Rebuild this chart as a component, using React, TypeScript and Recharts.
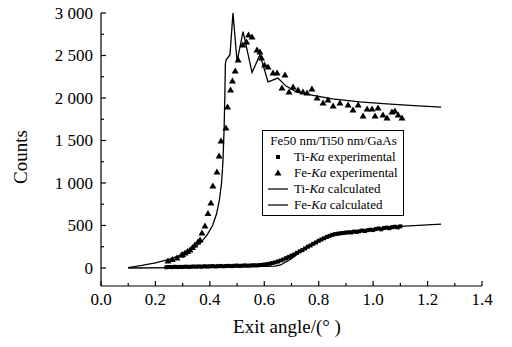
import { ComposedChart, Legend, Line, Scatter, XAxis, YAxis } from "recharts";

const FONT = "Liberation Serif, Times New Roman, serif";

const xTicks = [0, 0.1, 0.2, 0.3, 0.4, 0.5, 0.6, 0.7, 0.8, 0.9, 1.0, 1.1, 1.2, 1.3, 1.4];
const yTicks = [0, 250, 500, 750, 1000, 1250, 1500, 1750, 2000, 2250, 2500, 2750, 3000];

const tiExpX = [
  0.24, 0.25, 0.26, 0.27, 0.28, 0.29, 0.3, 0.31, 0.32, 0.33, 0.34, 0.35, 0.36, 0.37, 0.38, 0.39,
  0.4, 0.41, 0.42, 0.43, 0.44, 0.45, 0.46, 0.47, 0.48, 0.49, 0.5, 0.51, 0.52, 0.53, 0.54, 0.55,
  0.56, 0.57, 0.58, 0.59, 0.6, 0.61, 0.62, 0.63, 0.64, 0.65, 0.66, 0.67, 0.68, 0.69, 0.7, 0.71,
  0.72, 0.73, 0.74, 0.75, 0.76, 0.77, 0.78, 0.79, 0.8, 0.81, 0.82, 0.83, 0.84, 0.85, 0.86, 0.87,
  0.88, 0.89, 0.9, 0.91, 0.92, 0.93, 0.94, 0.95, 0.96, 0.97, 0.98, 0.99, 1.0, 1.01, 1.02, 1.03,
  1.04, 1.05, 1.06, 1.07, 1.08, 1.09, 1.1,
];
const tiExpY = [
  8, 12, 10, 14, 11, 13, 12, 16, 13, 14, 17, 15, 18, 15, 20, 17,
  19, 22, 18, 21, 24, 20, 23, 25, 22, 26, 28, 24, 27, 30, 26, 29,
  32, 30, 33, 36, 40, 44, 50, 58, 66, 76, 88, 100, 115, 130, 145, 160,
  178, 195, 210, 230, 250, 265, 285, 300, 320, 335, 350, 365, 378, 390, 398, 403,
  408, 412, 416, 420, 418, 428, 425, 432, 440, 435, 445, 450, 446, 458, 465, 455,
  470, 475, 468, 480, 485, 478, 490,
];

const feExpX = [
  0.246, 0.262, 0.279, 0.295, 0.3, 0.309, 0.318, 0.327, 0.336, 0.345, 0.356, 0.364, 0.371, 0.382,
  0.393, 0.404, 0.411, 0.426, 0.434, 0.441, 0.459, 0.465, 0.476, 0.483, 0.493, 0.504, 0.521, 0.535,
  0.542, 0.555, 0.573, 0.584, 0.59, 0.601, 0.614, 0.632, 0.647, 0.665, 0.676, 0.691, 0.706, 0.724,
  0.742, 0.757, 0.775, 0.794, 0.816, 0.834, 0.853, 0.878, 0.908, 0.926, 0.945, 0.963, 0.978, 0.996,
  1.007, 1.018, 1.036, 1.051, 1.069, 1.08, 1.092, 1.106,
];
const feExpY = [
  82, 100, 118, 150, 160, 176, 195, 212, 240, 270, 306, 329, 412, 494,
  640, 765, 965, 1129, 1318, 1494, 1647, 1894, 2094, 2200, 2318, 2447, 2624, 2660,
  2740, 2718, 2565, 2541, 2470, 2388, 2365, 2294, 2294, 2118, 2270, 2070, 2130, 2094,
  2070, 2060, 2106, 2000, 1941, 1976, 1906, 1941, 1918, 1859, 1918, 1788, 1870, 1870,
  1788, 1882, 1800, 1765, 1835, 1847, 1800, 1765,
];

const tiCalcX = [0.1, 0.3, 0.5, 0.6, 0.64, 0.66, 0.7, 0.73, 0.78, 0.84, 0.9, 1.0, 1.1, 1.25];
const tiCalcY = [0, 5, 15, 20, 22, 35, 110, 185, 290, 385, 425, 460, 490, 515];

const feCalcX = [
  0.1, 0.15, 0.2, 0.25, 0.3, 0.34, 0.37, 0.39, 0.41, 0.425, 0.435, 0.443, 0.448, 0.452, 0.455,
  0.457, 0.46, 0.474, 0.485, 0.5, 0.522, 0.555, 0.584, 0.614, 0.65, 0.68, 0.72, 0.78, 0.85, 0.95,
  1.05, 1.15, 1.25,
];
const feCalcY = [
  5, 30, 60, 100, 160, 230, 310, 390, 500, 640, 800, 1000, 1250, 1600, 2000,
  2400, 2450, 2510, 3000, 2430, 2780, 2300, 2510, 2190, 2235, 2140, 2070, 2030, 1990, 1955,
  1930, 1910, 1893,
];

const zip = (xs: number[], ys: number[]) => xs.map((x, i) => ({ x, y: ys[i] }));

const tiExp = zip(tiExpX, tiExpY);
const feExp = zip(feExpX, feExpY);
const tiCalc = zip(tiCalcX, tiCalcY);
const feCalc = zip(feCalcX, feCalcY);

const XTick = ({ x, y, payload }: any) => {
  const v = payload.value;
  const major = Math.round(v * 10) % 2 === 0;
  return (
    <g>
      <line x1={x} x2={x} y1={y} y2={y - (major ? 5 : 3)} stroke="#000" strokeWidth={1.2} />
      {major && (
        <text x={x} y={y + 19} textAnchor="middle" fontFamily="Liberation Serif" fontSize={17} fill="#000">
          {v.toFixed(1)}
        </text>
      )}
    </g>
  );
};

const YTick = ({ x, y, payload }: any) => {
  const v = payload.value;
  const major = v % 500 === 0;
  const label = v >= 1000 ? `${Math.floor(v / 1000)} ${String(v % 1000).padStart(3, "0")}` : String(v);
  return (
    <g>
      <line x1={x} x2={x + (major ? 5 : 3)} y1={y} y2={y} stroke="#000" strokeWidth={1.2} />
      {major && (
        <text x={x - 8} y={y + 6} textAnchor="end" fontFamily="Liberation Serif" fontSize={17} fill="#000">
          {label}
        </text>
      )}
    </g>
  );
};

const Square = ({ cx, cy }: any) => <rect x={cx - 2} y={cy - 2} width={4} height={4} fill="#000" />;
const Triangle = ({ cx, cy }: any) => (
  <polygon points={`${cx},${cy - 3.5} ${cx - 3.5},${cy + 2.5} ${cx + 3.5},${cy + 2.5}`} fill="#000" />
);

const LegendBox = () => {
  const row = { display: "flex", alignItems: "center", height: 16 } as const;
  const mark = (kind: string) => (
    <svg width={22} height={10} style={{ marginRight: 5, flex: "none" }}>
      {kind === "square" && <rect x={9} y={3} width={4} height={4} fill="#000" />}
      {kind === "triangle" && <polygon points="11,1.5 7.5,7.5 14.5,7.5" fill="#000" />}
      {kind === "line" && <line x1={1} x2={21} y1={5} y2={5} stroke="#000" strokeWidth={1.2} />}
    </svg>
  );
  return (
    <div
      style={{
        border: "1px solid #000",
        background: "#fff",
        fontFamily: FONT,
        fontSize: 13,
        lineHeight: "16px",
        padding: "2px 3px 2px 4px",
        width: 133,
        color: "#000",
      }}
    >
      <div style={{ height: 16, textAlign: "center" }}>Fe50 nm/Ti50 nm/GaAs</div>
      <div style={row}>
        {mark("square")}
        <span>Ti-<i>Ka</i> experimental</span>
      </div>
      <div style={row}>
        {mark("triangle")}
        <span>Fe-<i>Ka</i> experimental</span>
      </div>
      <div style={row}>
        {mark("line")}
        <span>Ti-<i>Ka</i> calculated</span>
      </div>
      <div style={row}>
        {mark("line")}
        <span>Fe-<i>Ka</i> calculated</span>
      </div>
    </div>
  );
};

export default function App() {
  return (
    <div style={{ position: "absolute", left: 0, top: 0, width: 512, height: 347, background: "#fff" }}>
      <ComposedChart width={512} height={347} margin={{ top: 13, right: 30, left: 0, bottom: 0 }}>
        <XAxis
          dataKey="x"
          type="number"
          domain={[0, 1.4]}
          ticks={xTicks}
          interval={0}
          height={61}
          tickSize={0}
          tickMargin={0}
          tick={<XTick />}
          axisLine={{ stroke: "#000", strokeWidth: 1.2 }}
          allowDataOverflow
        />
        <YAxis
          type="number"
          domain={[-212, 3000]}
          ticks={yTicks}
          interval={0}
          width={101}
          tickSize={0}
          tickMargin={0}
          tick={<YTick />}
          axisLine={{ stroke: "#000", strokeWidth: 1.2 }}
          allowDataOverflow
        />
        <Legend
          layout="horizontal"
          verticalAlign="middle"
          content={<LegendBox />}
          wrapperStyle={{ position: "absolute", left: 262, top: 130, width: "auto" }}
        />
        <Line data={feCalc} dataKey="y" type="linear" stroke="#000" strokeWidth={1.3} dot={false} isAnimationActive={false} />
        <Line data={tiCalc} dataKey="y" type="linear" stroke="#000" strokeWidth={1.3} dot={false} isAnimationActive={false} />
        <Scatter data={tiExp} dataKey="y" shape={<Square />} isAnimationActive={false} />
        <Scatter data={feExp} dataKey="y" shape={<Triangle />} isAnimationActive={false} />
      </ComposedChart>
      <div
        style={{
          position: "absolute",
          left: 21,
          top: 157,
          transform: "translate(-50%, -50%) rotate(-90deg)",
          fontFamily: FONT,
          fontSize: 19,
          whiteSpace: "nowrap",
        }}
      >
        Counts
      </div>
      <div
        style={{
          position: "absolute",
          left: 287,
          top: 327,
          transform: "translate(-50%, -50%)",
          fontFamily: FONT,
          fontSize: 19,
          whiteSpace: "nowrap",
        }}
      >
        Exit angle/(° )
      </div>
    </div>
  );
}
